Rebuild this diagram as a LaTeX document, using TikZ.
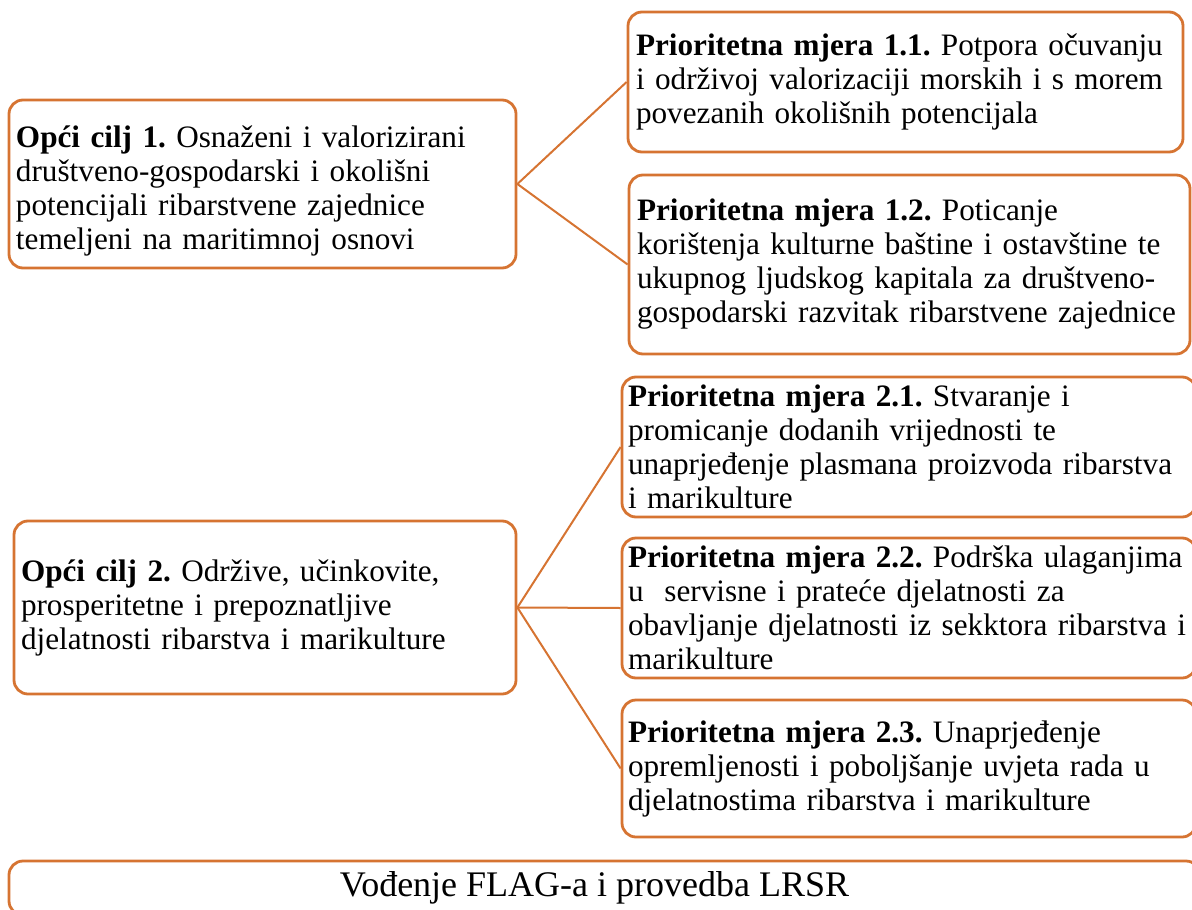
\documentclass[tikz,border=0pt]{standalone}
\usepackage{fontspec}
\setmainfont{Liberation Serif}
\definecolor{org}{RGB}{214,116,50}
\newcommand\Lx[1]{\mbox{#1}}
\newcommand\Tp{\rule{0pt}{18pt}}
\frenchspacing
\begin{document}
\begin{tikzpicture}[x=0.5pt,y=-0.5pt,
  box/.style={draw=org,line width=1.4pt,rounded corners=7pt,fill=white,
    inner xsep=3.5pt,inner ysep=0pt,align=left,anchor=center,
    font=\fontsize{15.6}{17}\selectfont},
  conn/.style={draw=org,line width=1pt}]
\useasboundingbox (0,0) rectangle (1192,909);
\clip (0,0) rectangle (1192,909);
% goal boxes
\node[box,text width=246.5pt,minimum height=84pt] (A) at (262.5,184)
 {\Lx{\Tp\textbf{Opći cilj 1.} Osnaženi i valorizirani}\\
  \Lx{društveno-gospodarski i okolišni}\\
  \Lx{potencijali ribarstvene zajednice}\\
  \Lx{temeljeni na maritimnoj osnovi}};
\node[box,text width=244pt,minimum height=86.5pt] (C) at (265,607.5)
 {\Lx{\textbf{Opći cilj 2.} Održive, učinkovite,}\\
  \Lx{prosperitetne i prepoznatljive}\\
  \Lx{djelatnosti ribarstva i marikulture}};
% measures
\node[box,inner xsep=4pt,text width=269.5pt,minimum height=70pt] (B1) at (905.5,82)
 {\Lx{\textbf{Prioritetna mjera 1.1.} Potpora očuvanju}\\
  \Lx{i održivoj valorizaciji morskih i s morem}\\
  \Lx{povezanih okolišnih potencijala}};
\node[box,inner xsep=4pt,text width=272.5pt,minimum height=89.5pt] (B2) at (909.5,264.5)
 {\Lx{\textbf{Prioritetna mjera 1.2.} Poticanje}\\
  \Lx{korištenja kulturne baštine i ostavštine te}\\
  \Lx{ukupnog ljudskog kapitala za društveno-}\\
  \Lx{gospodarski razvitak ribarstvene zajednice}};
\node[box,inner xsep=3pt,text width=281pt,minimum height=70pt] (D1) at (909,447)
 {\Lx{\textbf{Prioritetna mjera 2.1.} Stvaranje i}\\
  \Lx{promicanje dodanih vrijednosti te}\\
  \Lx{unaprjeđenje plasmana proizvoda ribarstva}\\
  \Lx{i marikulture}};
\node[box,inner xsep=3pt,text width=281pt,minimum height=70pt] (D2) at (909,608)
 {\Lx{\textbf{Prioritetna mjera 2.2.} Podrška ulaganjima}\\
  \Lx{u\ \ servisne i prateće djelatnosti za}\\
  \Lx{obavljanje djelatnosti iz sekktora ribarstva i}\\
  \Lx{marikulture}};
\node[box,inner xsep=3pt,text width=281pt,minimum height=68.5pt] (D3) at (909,768.5)
 {\Lx{\textbf{Prioritetna mjera 2.3.} Unaprjeđenje}\\
  \Lx{opremljenosti i poboljšanje uvjeta rada u}\\
  \Lx{djelatnostima ribarstva i marikulture}};
% bottom bar
\node[box,align=center,minimum width=595.5pt,minimum height=27pt,
  font=\fontsize{18}{21}\selectfont] (E) at (604.5,888) {\hspace*{-10pt}Vođenje FLAG-a i provedba LRSR};
% connectors
\draw[conn] (A.east) -- (B1.west);
\draw[conn] (A.east) -- (B2.west);
\draw[conn] (C.east) -- (D1.west);
\draw[conn] (C.east) -- (D2.west);
\draw[conn] (C.east) -- (D3.west);
\end{tikzpicture}
\end{document}
